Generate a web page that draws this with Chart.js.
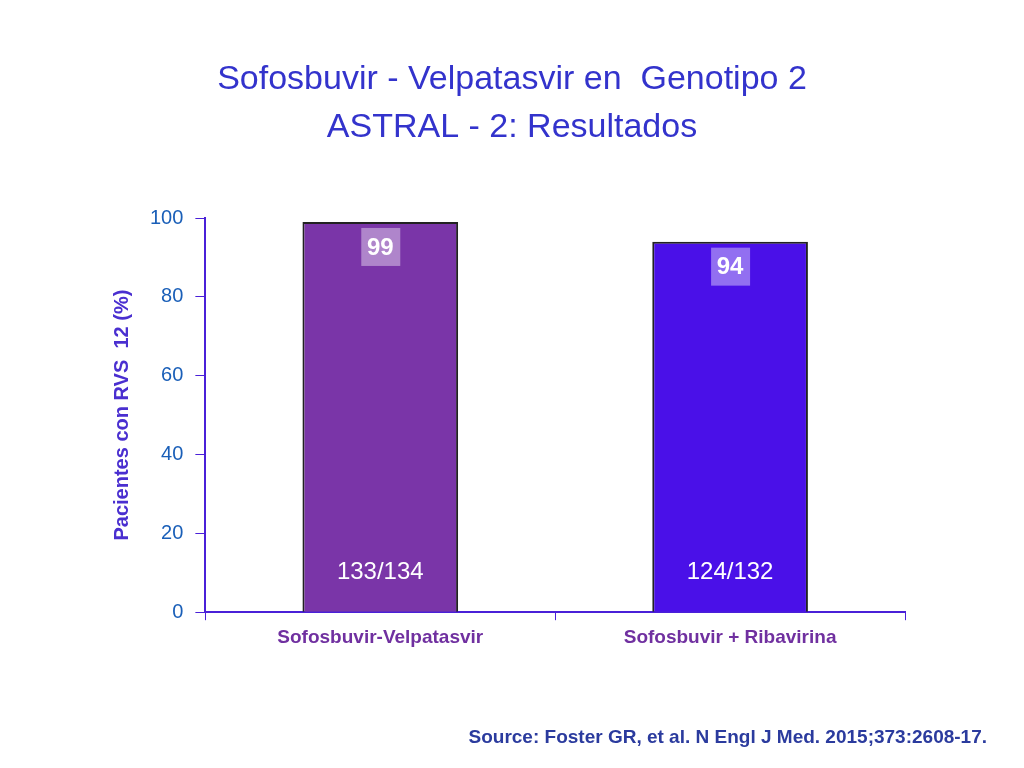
<!DOCTYPE html>
<html><head><meta charset="utf-8">
<script src="https://cdn.jsdelivr.net/npm/chart.js@4"></script>
<style>body{margin:0;background:#fff}canvas{display:block}</style>
</head><body>
<canvas id="c" width="1024" height="768"></canvas>
<script>
var categories = ['Sofosbuvir-Velpatasvir', 'Sofosbuvir + Ribavirina'];
var svrValues = [99, 94];
var ratioLabels = ['133/134', '124/132'];
var barColors = ['#7a35a8', '#4a10e8'];
var titleLines = ['Sofosbuvir - Velpatasvir en  Genotipo 2', 'ASTRAL - 2: Resultados'];
var sourceText = 'Source: Foster GR, et al. N Engl J Med. 2015;373:2608-17.';

var textPlugin = {
  id: 'texts',
  afterDraw: function(chart) {
    var ctx = chart.ctx, y = chart.scales.y;
    ctx.save();
    ctx.textAlign = 'center';
    ctx.textBaseline = 'middle';
    ctx.fillStyle = '#3333cc';
    ctx.font = '34px "Liberation Sans", Arial, sans-serif';
    ctx.fillText(titleLines[0], 512, 80);
    ctx.fillText(titleLines[1], 512, 128);
    var meta = chart.getDatasetMeta(0);
    meta.data.forEach(function(bar, i) {
      ctx.font = 'bold 24px "Liberation Sans", Arial, sans-serif';
      var ly = bar.y + 25;
      ctx.fillStyle = 'rgba(255,255,255,0.4)';
      ctx.fillRect(bar.x - 19, ly - 19, 39, 38);
      ctx.fillStyle = '#fff';
      ctx.fillText(String(svrValues[i]), bar.x, ly + 1);
      ctx.font = '24px "Liberation Sans", Arial, sans-serif';
      ctx.fillText(ratioLabels[i], bar.x, y.getPixelForValue(0) - 40);
    });
    ctx.font = 'bold 19px "Liberation Sans", Arial, sans-serif';
    ctx.fillStyle = '#2b3b9e';
    ctx.textAlign = 'right';
    ctx.fillText(sourceText, 987, 738);
    ctx.restore();
  }
};

new Chart(document.getElementById('c'), {
  type: 'bar',
  data: {
    labels: categories,
    datasets: [{
      data: svrValues,
      backgroundColor: barColors,
      borderColor: '#222',
      borderWidth: 2,
      categoryPercentage: 0.445,
      barPercentage: 1
    }]
  },
  options: {
    responsive: false,
    animation: false,
    devicePixelRatio: 1,
    layout: { padding: { top: 218, left: 106, right: 119, bottom: 113 } },
    plugins: { legend: { display: false }, tooltip: { enabled: false } },
    scales: {
      y: {
        min: 0, max: 100,
        ticks: { stepSize: 20, color: '#1a5fb8', font: { size: 20, family: '"Liberation Sans", Arial' }, padding: 12 },
        grid: { drawOnChartArea: false, color: '#4a20d8', tickLength: 10 },
        border: { color: '#4a20d8', width: 2 },
        title: { display: true, text: 'Pacientes con RVS  12 (%)', color: '#4a2fd0', font: { size: 20, weight: 'bold', family: '"Liberation Sans", Arial' } }
      },
      x: {
        ticks: { color: '#7030a0', font: { size: 19, weight: 'bold', family: '"Liberation Sans", Arial' }, padding: 6 },
        grid: { drawOnChartArea: false, color: '#4a20d8', tickLength: 8, offset: true },
        border: { color: '#4a20d8', width: 2 }
      }
    }
  },
  plugins: [textPlugin]
});
</script>
</body></html>
